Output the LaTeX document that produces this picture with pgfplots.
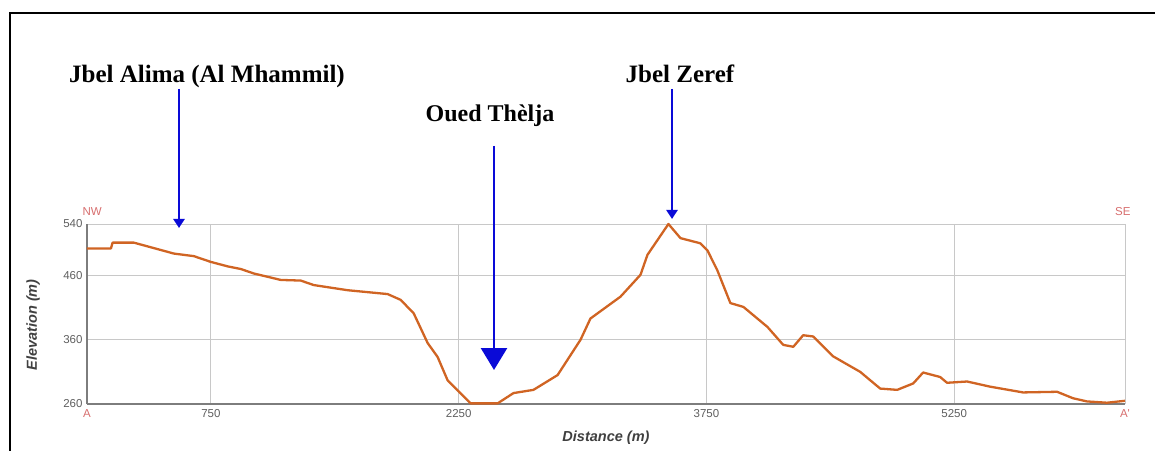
\documentclass[border=0pt]{standalone}
\usepackage{fontspec}
\setmainfont{Liberation Serif}
\newfontfamily\lsans{Liberation Sans}
\usepackage{pgfplots}
\pgfplotsset{compat=1.18}
\usetikzlibrary{arrows.meta}
\definecolor{profile}{RGB}{208,100,35}
\definecolor{arrowblue}{RGB}{10,10,215}
\definecolor{gridgray}{RGB}{200,200,200}
\definecolor{axisgray}{RGB}{125,125,125}
\definecolor{tickgray}{RGB}{95,95,95}
\definecolor{dirred}{RGB}{215,110,110}
\begin{document}
\begin{tikzpicture}[x=1pt,y=1pt]
\path[use as bounding box] (-87,-46) rectangle (1068,404);
\begin{axis}[
  at={(0,0)}, anchor=south west,
  scale only axis, width=1038pt, height=180pt,
  xmin=0, xmax=6284, ymin=260, ymax=540,
  axis x line*=bottom, axis y line*=left,
  axis line style={draw=axisgray, line width=1.2pt, -},
  xtick={0,750,2250,3750,5250,6284},
  xticklabels={\textcolor{dirred}{A},750,2250,3750,5250,\textcolor{dirred}{A'}},
  ytick={260,360,460,540},
  /pgf/number format/assume math mode=true,
  major tick length=0pt,
  grid=major,
  major grid style={draw=gridgray, line width=0.9pt},
  tick label style={font=\lsans\fontsize{11.5}{12}\selectfont, text=tickgray},
  xticklabel style={yshift=-2pt},
  yticklabel style={xshift=-1pt},
  xlabel={\lsans\bfseries\itshape Distance (m)},
  ylabel={\lsans\bfseries\itshape Elevation (m)},
  label style={font=\fontsize{14.5}{16}\selectfont, text=black!75},
  xlabel style={at={(axis description cs:0.5,-0.185)}, anchor=center},
  ylabel style={at={(axis description cs:-0.052,0.44)}, anchor=center},
  clip=false,
]
\addplot[draw=profile, line width=2.3pt, line join=round] coordinates {
(0,502) (145,502) (155,511) (284,511) (526,494) (647,490) (750,481)
(853,474) (931,470) (1010,463) (1173,453) (1294,452) (1373,445)
(1578,437) (1820,431) (1899,422) (1978,401) (2062,355) (2123,333)
(2183,297) (2322,261) (2486,261) (2582,277) (2703,282) (2849,305)
(2988,360) (3048,393) (3230,427) (3351,461) (3393,492) (3520,540)
(3593,518) (3713,510) (3756,499) (3816,468) (3895,417) (3974,411)
(4119,380) (4215,352) (4276,349) (4336,367) (4397,365) (4518,334)
(4681,310) (4802,284) (4905,282) (5002,292) (5062,309) (5165,302)
(5207,293) (5328,295) (5467,287) (5667,278) (5873,279) (5969,269)
(6054,264) (6175,262) (6284,265)
};
\node[font=\lsans\fontsize{11.5}{12}\selectfont, text=dirred] at (rel axis cs:0.005,1.067) {NW};
\node[font=\lsans\fontsize{11.5}{12}\selectfont, text=dirred] at (rel axis cs:0.998,1.067) {SE};
\end{axis}
% frame
\draw[black, line width=2.5pt] (-77,-50) -- (-77,391) -- (1072,391);
% annotations
\node[anchor=base, font=\bfseries\fontsize{25}{28}\selectfont] at (120,321) {Jbel Alima (Al Mhammil)};
\node[anchor=base, font=\bfseries\fontsize{24}{28}\selectfont] at (403,282) {Oued Thèlja};
\node[anchor=base, font=\bfseries\fontsize{25}{28}\selectfont] at (593,321) {Jbel Zeref};
\draw[arrowblue, line width=2.6pt, -{Triangle[width=11pt,length=9pt]}] (92,315) -- (92,176);
\draw[arrowblue, line width=2.6pt, -{Triangle[width=26pt,length=22pt]}] (407,258) -- (407,34);
\draw[arrowblue, line width=2.6pt, -{Triangle[width=11pt,length=9pt]}] (585,315) -- (585,185);
\end{tikzpicture}
\end{document}
